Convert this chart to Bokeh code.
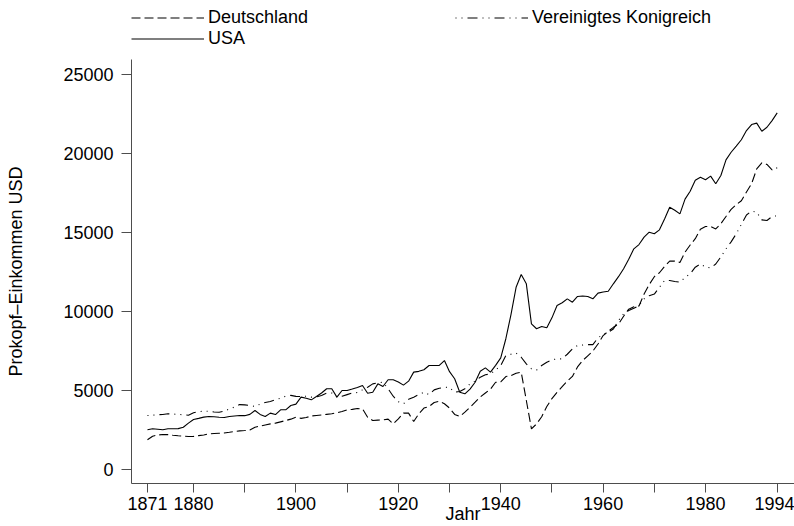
from bokeh.plotting import figure
from bokeh.layouts import column
from bokeh.models import FixedTicker, Range1d, Legend, LegendItem, ColumnDataSource
from bokeh.embed import file_html
from bokeh.resources import INLINE

years = list(range(1871, 1995))

deutschland = [
    1900, 2120, 2200, 2230, 2220, 2180, 2150, 2130, 2100, 2110,
    2160, 2200, 2270, 2290, 2310, 2330, 2370, 2420, 2460, 2480,
    2520, 2690, 2760, 2830, 2900, 2950, 3030, 3110, 3200, 3320,
    3250, 3300, 3400, 3430, 3460, 3500, 3540, 3600, 3680, 3790,
    3820, 3870, 3850, 3320, 3110, 3140, 3160, 3200, 2900, 3220,
    3580, 3580, 3050, 3540, 3900, 4000, 4250, 4330, 4170, 3900,
    3500, 3370, 3640, 3950, 4270, 4600, 4850, 5100, 5530, 5550,
    5890, 5950, 6100, 6170, 4380, 2590, 2900, 3350, 4000, 4500,
    4900, 5250, 5600, 5900, 6500, 6900, 7200, 7500, 7950, 8480,
    8750, 9000, 9200, 9700, 10150, 10300, 10350, 11100, 11700, 12200,
    12450, 12850, 13180, 13180, 13100, 13750, 14200, 14600, 15200, 15370,
    15370, 15220, 15550, 16000, 16450, 16750, 17000, 17550, 18070, 19010,
    19390, 19290, 18950, 19080,
]

vereinigtes_konigreich = [
    3430, 3450, 3480, 3490, 3540, 3520, 3500, 3480, 3450, 3600,
    3680, 3700, 3700, 3650, 3640, 3700, 3850, 3960, 4120, 4100,
    4060, 4000, 4150, 4250, 4320, 4420, 4530, 4650, 4700, 4640,
    4630, 4650, 4590, 4600, 4700, 4840, 4850, 4590, 4650, 4750,
    4850, 4880, 5050, 5220, 5430, 5500, 5530, 5120, 4650, 4300,
    4170, 4450, 4590, 4750, 4900, 4750, 5050, 5150, 5220, 5200,
    4900, 4950, 5120, 5430, 5600, 5850, 6000, 6060, 6300, 6590,
    7220, 7300, 7370, 7110, 6690, 6380, 6300, 6590, 6800, 6950,
    7010, 7010, 7300, 7640, 7850, 7880, 7910, 7910, 8340, 8550,
    8690, 8900, 9430, 9850, 10060, 10200, 10380, 10800, 11000, 11100,
    11530, 11960, 11960, 11900, 11850, 12150, 12380, 12800, 13010, 12800,
    12760, 13000, 13450, 13960, 14400, 14910, 15500, 16100, 16340, 16270,
    15790, 15750, 16000, 16050,
]

usa = [
    2530, 2590, 2560, 2530, 2590, 2590, 2600, 2690, 2950, 3180,
    3250, 3330, 3370, 3350, 3320, 3300, 3370, 3400, 3430, 3420,
    3500, 3750, 3500, 3370, 3580, 3490, 3790, 3790, 4060, 4150,
    4590, 4520, 4420, 4630, 4850, 5120, 5120, 4590, 5010, 5010,
    5100, 5200, 5330, 4840, 4900, 5430, 5260, 5690, 5690, 5550,
    5350, 5600, 6170, 6220, 6320, 6590, 6590, 6600, 6900, 6200,
    5750, 4900, 4800, 5100, 5530, 6230, 6440, 6170, 6600, 7070,
    8280, 9800, 11530, 12340, 11750, 9220, 8910, 9050, 8970, 9600,
    10380, 10550, 10800, 10590, 10950, 10980, 10950, 10800, 11160, 11230,
    11280, 11750, 12200, 12700, 13300, 13960, 14230, 14700, 15010, 14910,
    15160, 15850, 16590, 16400, 16170, 17100, 17600, 18290, 18480, 18320,
    18550, 18070, 18590, 19580, 20060, 20450, 20850, 21430, 21810, 21900,
    21390, 21640, 22060, 22550,
]

x_ticks = [1871, 1880, 1900, 1920, 1940, 1960, 1980, 1994]
x_minor_ticks = [1890, 1910, 1930, 1950, 1970]
y_ticks = [0, 5000, 10000, 15000, 20000, 25000]

FONT = "Liberation Sans"
FS = "18px"
AXC = "#4d4d4d"
LW = 1.1
DASH_DE = "9 4"
DASH_UK = "1 5 1 5 10 5"

src = ColumnDataSource(dict(year=years, de=deutschland, uk=vereinigtes_konigreich, us=usa))

# ---------- legend strip ----------
lg = figure(width=794, height=59, output_backend="svg", toolbar_location=None,
            x_range=Range1d(0, 1), y_range=Range1d(0, 1),
            x_axis_type=None, y_axis_type=None,
            min_border_left=131, min_border_right=0,
            min_border_top=0, min_border_bottom=0)
lg.outline_line_color = None
lg.grid.visible = False
# placeholder renderers (NaN, nothing drawn) so that the legend can show the line styles
nan_src = ColumnDataSource(dict(x=[float("nan")], y=[float("nan")]))
l_de = lg.line("x", "y", source=nan_src, line_color="black", line_width=LW, line_dash=DASH_DE)
l_uk = lg.line("x", "y", source=nan_src, line_color="black", line_width=LW, line_dash=DASH_UK)
l_us = lg.line("x", "y", source=nan_src, line_color="black", line_width=LW)

legend = Legend(items=[
    LegendItem(label="Deutschland", renderers=[l_de]),
    LegendItem(label="Vereinigtes Konigreich", renderers=[l_uk]),
    LegendItem(label="USA", renderers=[l_us]),
], orientation="horizontal", ncols=2, location=(0, 10),
    glyph_width=73, glyph_height=21, label_height=21, label_width=247,
    label_standoff=4, spacing=0, padding=0, margin=0,
    border_line_color=None, background_fill_alpha=0,
    label_text_font=FONT, label_text_font_size=FS, label_text_color="black")
lg.add_layout(legend)

# ---------- main chart ----------
p = figure(width=794, height=467, output_backend="svg", toolbar_location=None,
           x_range=Range1d(1867.88, 1997.38), y_range=Range1d(-865, 25920),
           min_border_left=131, min_border_right=0, min_border_top=0, min_border_bottom=43)
p.outline_line_color = None
p.xgrid.visible = False
p.ygrid.visible = False

p.line("year", "de", source=src, line_color="black", line_width=LW, line_dash=DASH_DE)
p.line("year", "uk", source=src, line_color="black", line_width=LW, line_dash=DASH_UK)
p.line("year", "us", source=src, line_color="black", line_width=LW)

xa = p.xaxis[0]
xa.ticker = FixedTicker(ticks=x_ticks, minor_ticks=x_minor_ticks)
xa.major_tick_out = 9
xa.major_tick_in = 0
xa.minor_tick_out = 9
xa.minor_tick_in = 0
xa.major_label_standoff = 4
xa.axis_line_color = AXC
xa.major_tick_line_color = AXC
xa.minor_tick_line_color = AXC
xa.major_label_text_font = FONT
xa.major_label_text_font_size = FS
xa.major_label_text_color = "black"
xa.axis_label = "Jahr"
xa.axis_label_text_font = FONT
xa.axis_label_text_font_size = FS
xa.axis_label_text_font_style = "normal"
xa.axis_label_text_color = "black"
xa.axis_label_standoff = -9

ya = p.yaxis[0]
ya.ticker = FixedTicker(ticks=y_ticks, minor_ticks=[])
ya.major_tick_out = 10
ya.major_tick_in = 0
ya.minor_tick_line_color = None
ya.major_label_standoff = 8
ya.axis_line_color = AXC
ya.major_tick_line_color = AXC
ya.major_label_text_font = FONT
ya.major_label_text_font_size = FS
ya.major_label_text_color = "black"
ya.axis_label = "Prokopf\u2013Einkommen USD"
ya.axis_label_text_font = FONT
ya.axis_label_text_font_size = FS
ya.axis_label_text_font_style = "normal"
ya.axis_label_text_color = "black"
ya.axis_label_standoff = 34

layout = column(lg, p, spacing=0)
open("out.html", "w").write(file_html(layout, INLINE))
